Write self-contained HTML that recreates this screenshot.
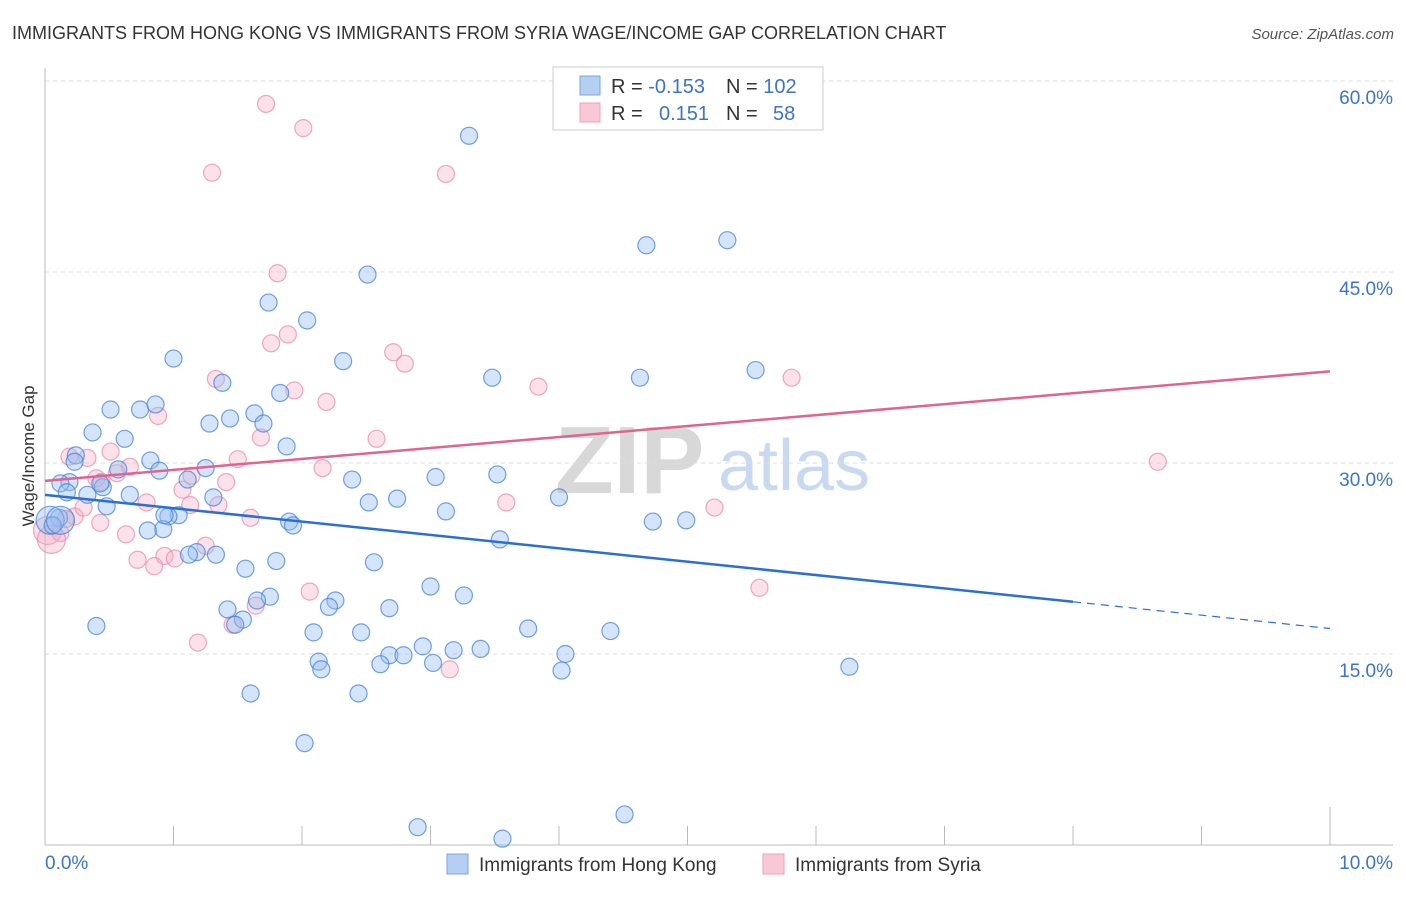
<!DOCTYPE html>
<html><head><meta charset="utf-8">
<style>
body{margin:0;background:#fff;font-family:"Liberation Sans",sans-serif;}
svg text{font-family:"Liberation Sans",sans-serif;}
</style></head>
<body>
<svg id="chart" width="1406" height="892" xmlns="http://www.w3.org/2000/svg">
<text x="12" y="39" font-size="18" fill="#333">IMMIGRANTS FROM HONG KONG VS IMMIGRANTS FROM SYRIA WAGE/INCOME GAP CORRELATION CHART</text>
<text x="1394" y="39" font-size="15" fill="#555" font-style="italic" text-anchor="end">Source: ZipAtlas.com</text>
<g>
<text x="555" y="493" font-size="96" fill="#d8d8d8" font-family="Liberation Serif,serif" font-weight="bold">ZIP</text>
<text x="718" y="490" font-size="72" fill="#c9daf0">atlas</text>
</g>
<g id="grid"></g>
<g id="axes"></g>
<g id="marks"></g>
<g id="trends"></g>
<text transform="translate(34,456) rotate(-90)" font-size="17" fill="#333" text-anchor="middle">Wage/Income Gap</text>
<g>
<rect x="553" y="67" width="270" height="63" fill="#fff" stroke="#ccc"/>
<rect x="580" y="76" width="20" height="19" fill="#b4cff2" stroke="#7aa6e0"/>
<rect x="580" y="103" width="20" height="19" fill="#f8c8d7" stroke="#eba3ba"/>
<text x="611" y="93" font-size="20" fill="#333">R = <tspan fill="#3b74cc">-0.153</tspan></text>
<text x="726" y="93" font-size="20" fill="#333">N = <tspan fill="#3b74cc">102</tspan></text>
<text x="611" y="120" font-size="20" fill="#333">R = <tspan fill="#3b74cc" x="659">0.151</tspan></text>
<text x="726" y="120" font-size="20" fill="#333">N = <tspan fill="#3b74cc" x="773">58</tspan></text>
</g>
<g>
<rect x="447" y="854" width="21" height="20" fill="#b4cff2" stroke="#7aa6e0"/>
<text x="479" y="871" font-size="19" fill="#333">Immigrants from Hong Kong</text>
<rect x="763" y="854" width="21" height="20" fill="#f8c8d7" stroke="#eba3ba"/>
<text x="795" y="871" font-size="19" fill="#333">Immigrants from Syria</text>
</g>
</svg>
<script>
const yTicks=[15,30,45,60];
const yTickLabels=["15.0%","30.0%","45.0%","60.0%"];
const xTicks=[0,1,2,3,4,5,6,7,8,9,10];
const xEndLabels=["0.0%","10.0%"];
const hkX=[3.30,5.31,4.68,2.51,1.74,2.04,1.00,2.32,5.53,3.48,4.63,1.38,1.83,0.51,0.74,0.86,1.63,1.44,1.28,1.70,0.37,0.62,1.88,0.24,0.82,0.57,0.89,1.25,3.52,3.04,2.39,1.11,0.19,0.12,0.45,0.17,0.33,0.66,1.31,4.00,2.74,2.52,0.48,3.12,1.04,0.96,0.11,0.04,1.90,0.06,1.93,0.92,0.80,4.73,4.99,3.54,1.18,1.12,1.33,1.80,2.56,1.56,3.00,3.26,1.75,1.65,2.26,2.21,2.68,1.42,1.54,1.48,0.40,3.76,4.40,2.09,2.46,2.94,3.18,4.05,3.39,2.68,2.79,2.13,2.15,2.61,3.02,4.02,6.26,1.60,2.44,2.02,2.90,4.51,3.56,0.12,0.43,0.23,0.93];
const hkY=[55.7,47.5,47.1,44.8,42.6,41.2,38.2,38.0,37.3,36.7,36.7,36.3,35.5,34.2,34.2,34.6,33.9,33.5,33.1,33.1,32.4,31.9,31.3,30.6,30.2,29.5,29.4,29.6,29.1,28.9,28.7,28.7,28.5,28.4,28.1,27.7,27.5,27.5,27.3,27.3,27.2,26.9,26.6,26.2,25.9,25.8,25.7,25.5,25.4,25.1,25.1,24.8,24.7,25.4,25.5,24.0,23.0,22.8,22.8,22.3,22.2,21.7,20.3,19.6,19.5,19.2,19.2,18.7,18.6,18.5,17.7,17.3,17.2,17.0,16.8,16.7,16.7,15.6,15.3,15.0,15.4,14.9,14.9,14.4,13.8,14.2,14.3,13.7,14.0,11.9,11.9,8.0,1.4,2.4,0.5,25.5,28.4,30.1,25.9];
const syX=[1.72,2.01,1.30,3.12,1.81,1.89,1.76,2.71,2.80,1.33,1.94,3.84,5.81,2.19,0.88,1.68,2.58,0.19,0.51,1.50,0.33,2.16,0.66,8.66,0.40,0.56,1.41,1.14,1.07,0.44,0.79,1.13,3.59,5.21,1.35,0.23,0.30,1.60,0.16,0.43,0.02,0.12,0.63,0.05,1.25,0.72,0.93,1.01,0.85,2.06,5.56,1.64,1.46,1.19,3.15];
const syY=[58.2,56.3,52.8,52.7,44.9,40.1,39.4,38.7,37.8,36.6,35.7,36.0,36.7,34.8,33.7,32.0,31.9,30.5,30.9,30.3,30.4,29.6,29.7,30.1,28.8,29.2,28.5,29.0,27.9,28.5,26.9,26.7,26.9,26.5,26.7,25.8,26.5,25.7,25.6,25.3,24.7,24.5,24.4,24.0,23.5,22.4,22.7,22.5,21.9,19.9,20.2,18.8,17.3,15.9,13.8];
const hkTrend=[27.5,-1.05];   // intercept, slope
const syTrend=[28.6,0.86];
const hkSolidEnd=8;

const NS="http://www.w3.org/2000/svg";
const X0=45,X1=1330,Y0=845,PXY=191/15;
const xs=v=>X0+v*(X1-X0)/10;
const ys=v=>Y0-v*PXY;
function mk(tag,attrs,parent){const e=document.createElementNS(NS,tag);for(const k in attrs)e.setAttribute(k,attrs[k]);parent.appendChild(e);return e;}
const grid=document.getElementById('grid'),axes=document.getElementById('axes'),marks=document.getElementById('marks'),trends=document.getElementById('trends');
yTicks.forEach((t,i)=>{
  const l=mk('line',{x1:X0,x2:1393,y1:ys(t),y2:ys(t),stroke:'#ddd','stroke-dasharray':'4,4'},grid);
  
  
  const tx=mk('text',{x:1393,y:ys(t)+23,'font-size':19,fill:'#3b74cc','text-anchor':'end'},axes);
  tx.textContent=yTickLabels[i];
  
  
});
const ax=mk('line',{x1:X0,x2:X0,y1:68,y2:Y0,stroke:'#bbb'},axes);


const bx=mk('line',{x1:X0,x2:1393,y1:Y0,y2:Y0,stroke:'#bbb'},axes);


xTicks.forEach(t=>{
  const tk=mk('line',{x1:xs(t),x2:xs(t),y1:(t===10?807:826),y2:Y0,stroke:'#bbb'},axes);
  
  
});
[[0,'start',45],[10,'end',1393]].forEach((d,i)=>{
  const t=mk('text',{x:d[2],y:869,'font-size':19,fill:'#3b74cc','text-anchor':d[1]},axes);
  t.textContent=xEndLabels[i];
  
  
});
function pts(X,Y,fill,stroke,name,big){
  X.forEach((x,i)=>{
    const c=mk('circle',{cx:xs(x),cy:ys(Y[i]),r:big.includes(i)?14:8.5,fill:fill,stroke:stroke,'stroke-width':1.2},marks);
    
    
  });
}
pts(syX,syY,'rgba(244,170,195,0.35)','rgba(232,140,172,0.75)','point-syria',[40,43]);
pts(hkX,hkY,'rgba(150,190,240,0.4)','rgba(70,130,215,0.75)','point-hong-kong',[95,47]);
const f=(tr,x)=>tr[0]+tr[1]*x;
const s1=mk('line',{x1:xs(0),y1:ys(f(hkTrend,0)),x2:xs(hkSolidEnd),y2:ys(f(hkTrend,hkSolidEnd)),stroke:'#2a6fd6','stroke-width':2.5},trends);


const s2=mk('line',{x1:xs(hkSolidEnd),y1:ys(f(hkTrend,hkSolidEnd)),x2:xs(10),y2:ys(f(hkTrend,10)),stroke:'#2a6fd6','stroke-width':1.2,'stroke-dasharray':'8,6'},trends);


const s3=mk('line',{x1:xs(0),y1:ys(f(syTrend,0)),x2:xs(10),y2:ys(f(syTrend,10)),stroke:'#e0648f','stroke-width':2.5},trends);


</script>
</body></html>
